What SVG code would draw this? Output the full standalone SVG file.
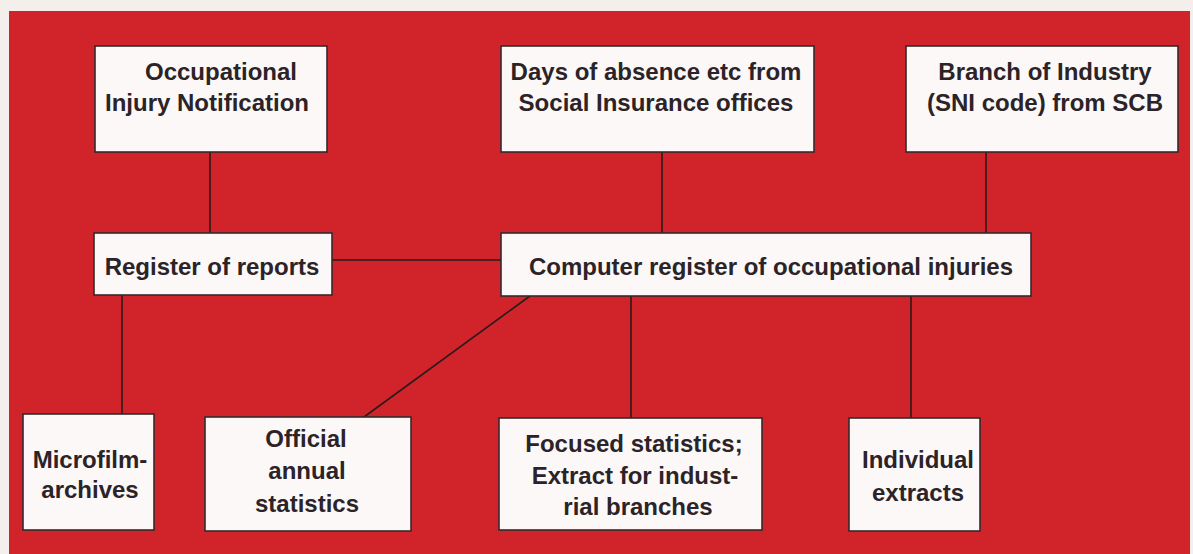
<svg xmlns="http://www.w3.org/2000/svg" width="1193" height="554" viewBox="0 0 1193 554">
<style>
.box{fill:#fbf8f7;stroke:#352a2c;stroke-width:1.6}
.lbl{font-family:"Liberation Sans",Arial,Helvetica,sans-serif;font-weight:bold;font-size:24px;fill:#2b2327;text-anchor:middle}
.con line{stroke:#2b1a1c;stroke-width:1.6}
</style>
<rect x="0" y="0" width="1193" height="554" fill="#f4efeb"/>
<rect x="9" y="11" width="1181" height="543" fill="#d0232a"/>
<g class="con" id="connectors">
<line x1="210" y1="152" x2="210" y2="233"/>
<line x1="662" y1="152" x2="662" y2="233"/>
<line x1="986" y1="152" x2="986" y2="233"/>
<line x1="332" y1="260" x2="501" y2="260"/>
<line x1="122" y1="295" x2="122" y2="414"/>
<line x1="530" y1="296" x2="364" y2="417"/>
<line x1="631" y1="296" x2="631" y2="418"/>
<line x1="911" y1="296" x2="911" y2="418"/>
</g>
<g id="occupational">
<rect class="box" x="95" y="46" width="232" height="106"/>
<text class="lbl" x="221" y="80">Occupational</text>
<text class="lbl" x="207" y="111">Injury Notification</text>
</g>
<g id="days">
<rect class="box" x="501" y="46" width="313" height="106"/>
<text class="lbl" x="656" y="80">Days of absence etc from</text>
<text class="lbl" x="656" y="111">Social Insurance offices</text>
</g>
<g id="branch">
<rect class="box" x="906" y="46" width="272" height="106"/>
<text class="lbl" x="1045" y="80">Branch of Industry</text>
<text class="lbl" x="1045" y="111">(SNI code) from SCB</text>
</g>
<g id="register">
<rect class="box" x="94" y="233" width="238" height="62"/>
<text class="lbl" x="212" y="275">Register of reports</text>
</g>
<g id="computer">
<rect class="box" x="501" y="233" width="530" height="63"/>
<text class="lbl" x="771" y="275">Computer register of occupational injuries</text>
</g>
<g id="microfilm">
<rect class="box" x="23" y="414" width="131" height="116"/>
<text class="lbl" x="90" y="468">Microfilm-</text>
<text class="lbl" x="90" y="498">archives</text>
</g>
<g id="official">
<rect class="box" x="205" y="417" width="206" height="114"/>
<text class="lbl" x="306" y="447">Official</text>
<text class="lbl" x="307" y="479">annual</text>
<text class="lbl" x="307" y="512">statistics</text>
</g>
<g id="focused">
<rect class="box" x="499" y="418" width="263" height="112"/>
<text class="lbl" x="634" y="452">Focused statistics;</text>
<text class="lbl" x="635" y="484">Extract for indust-</text>
<text class="lbl" x="638" y="515">rial branches</text>
</g>
<g id="individual">
<rect class="box" x="849" y="418" width="131" height="113"/>
<text class="lbl" x="918" y="468">Individual</text>
<text class="lbl" x="918" y="501">extracts</text>
</g>
</svg>
